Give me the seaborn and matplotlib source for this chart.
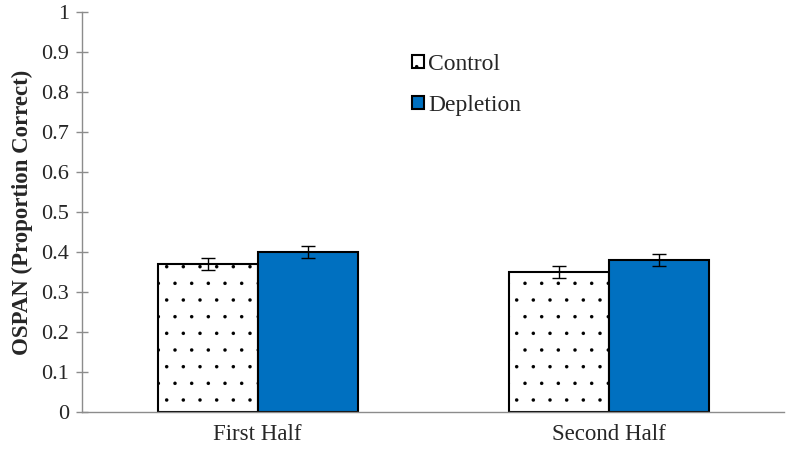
import pandas as pd
import matplotlib
matplotlib.use("Agg")
import matplotlib.pyplot as plt
import seaborn as sns
from matplotlib.patches import Patch

halves = ["First Half", "Second Half"]
conditions = ["Control", "Depletion"]
control_means = [0.37, 0.35]
depletion_means = [0.40, 0.38]
control_err = [0.014, 0.015]
depletion_err = [0.015, 0.016]
y_ticks = [0, 0.1, 0.2, 0.3, 0.4, 0.5, 0.6, 0.7, 0.8, 0.9, 1]
y_tick_labels = ["0", "0.1", "0.2", "0.3", "0.4", "0.5", "0.6", "0.7", "0.8", "0.9", "1"]

df = pd.DataFrame({
    "half": halves * 2,
    "condition": ["Control"] * 2 + ["Depletion"] * 2,
    "value": control_means + depletion_means,
    "err": control_err + depletion_err,
})

sns.set_style("white")
plt.rcParams["font.family"] = ["Liberation Serif", "DejaVu Serif"]
plt.rcParams["hatch.linewidth"] = 0.1

fig = plt.figure(figsize=(7.89, 4.57), dpi=100)
ax = fig.add_axes([0.104, 0.0985, 0.89, 0.8755])

colors = {"Control": "white", "Depletion": "#0070C0"}
sns.barplot(data=df, x="half", y="value", hue="condition", hue_order=conditions,
            palette=colors, saturation=1, edgecolor="black", linewidth=1.5,
            width=0.57, errorbar=None, legend=False, ax=ax)

# bars come in hue order: control bars first, then depletion
for i, p in enumerate(ax.patches):
    row = df.iloc[i]
    if row["condition"] == "Control":
        p.set_hatch(".")
    cx = p.get_x() + p.get_width() / 2
    ax.errorbar(cx, p.get_height(), yerr=row["err"], fmt="none",
                ecolor="black", elinewidth=1.0, capsize=5, capthick=1.0, zorder=5)

ax.set_xlim(-0.5, 1.5)
ax.set_ylim(0, 1)
ax.set_yticks(y_ticks)
ax.set_yticklabels(y_tick_labels)
ax.set_xlabel("")
ax.set_ylabel("OSPAN (Proportion Correct)", fontsize=16.5, fontweight="bold", labelpad=6)

for s in ["top", "right"]:
    ax.spines[s].set_visible(False)
for s in ["left", "bottom"]:
    ax.spines[s].set_color("#8c8c8c")
    ax.spines[s].set_linewidth(1.0)

ax.tick_params(axis="y", direction="inout", length=9, width=1.0, color="#8c8c8c",
               labelsize=16, pad=5, left=True)
ax.tick_params(axis="x", length=0, labelsize=16.5, pad=9)

handles = [
    Patch(facecolor="white", edgecolor="black", linewidth=1.5, hatch=".", label="Control"),
    Patch(facecolor="#0070C0", edgecolor="black", linewidth=1.5, label="Depletion"),
]
ax.legend(handles=handles, loc="upper left", bbox_to_anchor=(0.453, 0.925),
          frameon=False, fontsize=17, borderpad=0, handlelength=0.5, handleheight=0.5,
          handletextpad=0.2, labelspacing=0.85)

fig.savefig("out.png", dpi=100)
